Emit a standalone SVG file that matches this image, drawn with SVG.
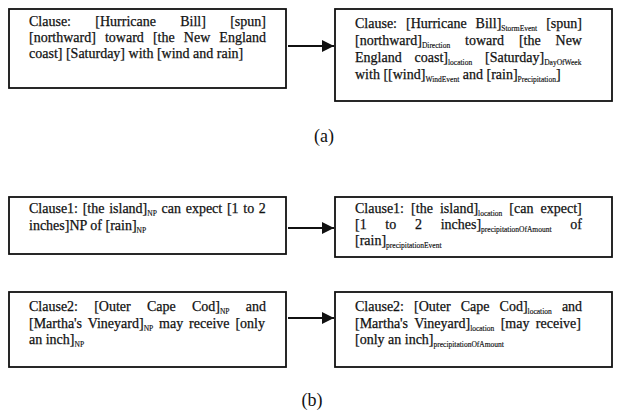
<svg xmlns="http://www.w3.org/2000/svg" width="619" height="419" viewBox="0 0 619 419">
  <style>
    .box { fill: #ffffff; stroke: #111111; stroke-width: 1.8; }
    .t { font-family: "Liberation Serif", "Times New Roman", serif; font-size: 14px; fill: #111111; stroke: #111111; stroke-width: 0.25; }
    .s { font-size: 7.5px; stroke-width: 0.15; }
    .cap { font-family: "Liberation Serif", "Times New Roman", serif; font-size: 18px; fill: #111111; text-anchor: middle; }
    .link { stroke: #111111; stroke-width: 2; fill: none; marker-end: url(#head); }
  </style>
  <defs>
    <marker id="head" viewBox="0 0 10 10" refX="10" refY="5" markerWidth="6" markerHeight="6" markerUnits="strokeWidth" orient="auto">
      <path d="M0,0 L10,5 L0,10 Z" fill="#111111"/>
    </marker>
  </defs>
  <rect width="619" height="419" fill="#ffffff"/>

  <!-- (a) raw clause -->
  <g id="clause-a-raw">
    <rect class="box" x="9" y="9" width="277" height="79"/>
    <text class="t" x="29" y="26" word-spacing="20.8">Clause: [Hurricane Bill] [spun]</text>
    <text class="t" x="29" y="42" word-spacing="5.6">[northward] toward [the New England</text>
    <text class="t" x="29" y="58">coast] [Saturday] with [wind and rain]</text>
  </g>

  <!-- (a) tagged clause -->
  <g id="clause-a-tagged">
    <rect class="box" x="335" y="9" width="277" height="92"/>
    <text class="t" x="355" y="28" word-spacing="5.5">Clause: [Hurricane Bill]<tspan class="s" dy="3">StormEvent</tspan><tspan dy="-3"> [spun]</tspan></text>
    <text class="t" x="355" y="45" word-spacing="11.4">[northward]<tspan class="s" dy="3">Direction</tspan><tspan dy="-3"> toward [the New</tspan></text>
    <text class="t" x="355" y="62" word-spacing="9.4">England coast]<tspan class="s" dy="3">location</tspan><tspan dy="-3"> [Saturday]</tspan><tspan class="s" dy="3">DayOfWeek</tspan></text>
    <text class="t" x="355" y="79">with [[wind]<tspan class="s" dy="3">WindEvent</tspan><tspan dy="-3"> and [rain]</tspan><tspan class="s" dy="3">Precipitation</tspan><tspan dy="-3">]</tspan></text>
  </g>

  <!-- (b) clause 1 -->
  <g id="clause1-raw">
    <rect class="box" x="9" y="197" width="277" height="57"/>
    <text class="t" x="29" y="213" word-spacing="1.2">Clause1: [the island]<tspan class="s" dy="3">NP</tspan><tspan dy="-3"> can expect [1 to 2</tspan></text>
    <text class="t" x="29" y="230">inches]NP of [rain]<tspan class="s" dy="3">NP</tspan></text>
  </g>
  <g id="clause1-tagged">
    <rect class="box" x="335" y="197" width="277" height="60"/>
    <text class="t" x="355" y="213" word-spacing="3.6">Clause1: [the island]<tspan class="s" dy="3">location</tspan><tspan dy="-3"> [can expect]</tspan></text>
    <text class="t" x="355" y="229" word-spacing="15.2">[1 to 2 inches]<tspan class="s" dy="3">precipitationOfAmount</tspan><tspan dy="-3"> of</tspan></text>
    <text class="t" x="355" y="245">[rain]<tspan class="s" dy="3">precipitationEvent</tspan></text>
  </g>

  <!-- (b) clause 2 -->
  <g id="clause2-raw">
    <rect class="box" x="9" y="292" width="277" height="75"/>
    <text class="t" x="29" y="311" word-spacing="12.7">Clause2: [Outer Cape Cod]<tspan class="s" dy="3">NP</tspan><tspan dy="-3"> and</tspan></text>
    <text class="t" x="29" y="328" word-spacing="2.4">[Martha's Vineyard]<tspan class="s" dy="3">NP</tspan><tspan dy="-3"> may receive [only</tspan></text>
    <text class="t" x="29" y="344">an inch]<tspan class="s" dy="3">NP</tspan></text>
  </g>
  <g id="clause2-tagged">
    <rect class="box" x="335" y="292" width="277" height="75"/>
    <text class="t" x="355" y="311" word-spacing="6.6">Clause2: [Outer Cape Cod]<tspan class="s" dy="3">location</tspan><tspan dy="-3"> and</tspan></text>
    <text class="t" x="355" y="328" word-spacing="2.9">[Martha's Vineyard]<tspan class="s" dy="3">location</tspan><tspan dy="-3"> [may receive]</tspan></text>
    <text class="t" x="355" y="344">[only an inch]<tspan class="s" dy="3">precipitationOfAmount</tspan></text>
  </g>

  <!-- connectors -->
  <g id="connectors">
    <line class="link" x1="288" y1="46" x2="334" y2="46"/>
    <line class="link" x1="288" y1="228" x2="334" y2="228"/>
    <line class="link" x1="288" y1="318" x2="334" y2="318"/>
  </g>

  <!-- captions -->
  <text class="cap" x="324" y="142">(a)</text>
  <text class="cap" x="312" y="406">(b)</text>
</svg>
